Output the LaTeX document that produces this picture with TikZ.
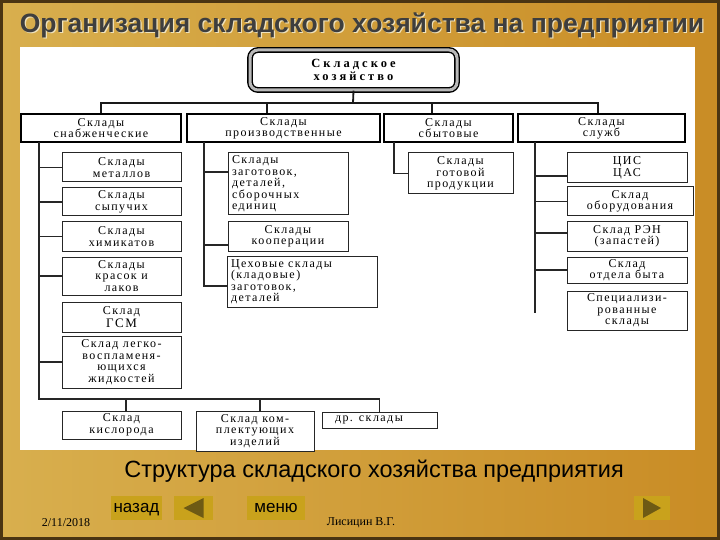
\documentclass[tikz,border=0pt]{standalone}
\usepackage{fontspec}
\setmainfont{Liberation Serif}
\setsansfont{Liberation Sans}
\newfontfamily\boxfont[LetterSpace=12]{Liberation Serif}
\newfontfamily\topfont[LetterSpace=24]{Liberation Serif}
\newfontfamily\titlefont{Liberation Sans}
\usepackage{xcolor}
\usepackage{tikz}

\definecolor{bgL}{HTML}{D8AF4E}
\definecolor{bgM}{HTML}{E4C57C}
\definecolor{bgR}{HTML}{C98C25}
\definecolor{slideframe}{HTML}{4A3412}
\definecolor{btnfill}{HTML}{C9A21C}
\definecolor{btntri}{HTML}{6E5A14}
\definecolor{ttl}{HTML}{3E3E3E}
\definecolor{ttlshadow}{HTML}{EFE2BC}

\begin{document}
\begin{tikzpicture}[
    x=1pt,y=-1pt,
    topbox/.style={draw=black, line width=1.4pt, double=gray!55, double distance=3pt,
                   rounded corners=8pt, fill=white, align=center, inner sep=0pt,
                   font=\topfont\bfseries\fontsize{12.5}{13}\selectfont},
    cat/.style={draw, line width=2.2pt, fill=white, align=center, inner sep=0pt,
                font=\boxfont\fontsize{12}{11}\selectfont},
    itm/.style={draw=black!85, line width=1pt, fill=white, align=center, inner sep=0pt,
                font=\boxfont\fontsize{12}{11.5}\selectfont},
    lft/.style={itm, align=left, text width=#1, inner xsep=4pt},
    line/.style={line width=1.2pt, black!85},
    bus/.style={line width=1.8pt, black!90},
    btn/.style={fill=btnfill, minimum height=24, inner sep=0pt, text height=12, text depth=4,
                font=\sffamily\fontsize{17}{17}\selectfont}
]
\useasboundingbox (0,0) rectangle (720,540);

% Slide background
\shade[left color=bgL, middle color=bgM, right color=bgR] (0,0) rectangle (720,540);
\draw[line width=3pt, slideframe] (1.5,1.5) rectangle (718.5,538.5);
\fill[white] (20,47) rectangle (695,450);

% Title
\node[font=\titlefont\bfseries\fontsize{26.5}{26.5}\selectfont, text=ttlshadow] (titleshadow) at (363.2,26.2) {Организация складского хозяйства на предприятии};
\node[font=\titlefont\bfseries\fontsize{26.5}{26.5}\selectfont, text=ttl] (title) at (362,25) {Организация складского хозяйства на предприятии};

% Top box and categories
\node[topbox, minimum width=207, minimum height=40] (top) at (353.5,70) {Складское\\хозяйство};
\node[cat, minimum width=160, minimum height=28] (snab) at (101,128) {Склады\\снабженческие};
\node[cat, minimum width=193, minimum height=28] (proizv) at (283.5,128) {Склады\\производственные};
\node[cat, minimum width=129, minimum height=28] (sbyt) at (448.5,128) {Склады\\сбытовые};
\node[cat, minimum width=167, minimum height=28] (sluzhb) at (601.5,128) {Склады\\служб};
\coordinate (busmid) at (353,103);
\draw[bus] (top.south) -- (busmid);
\draw[bus] (snab.north) |- (busmid) -| ([xshift=-3.5pt]sluzhb.north);
\draw[bus] ([xshift=-16.5pt]proizv.north) -- ++(0,-11);
\draw[bus] ([xshift=-16.5pt]sbyt.north) -- ++(0,-11);

% Supply warehouses
\node[itm, minimum width=119, minimum height=29] (metal) at (121.5,167.5) {Склады\\металлов};
\node[itm, minimum width=119, minimum height=28] (sypuch) at (121.5,202) {Склады\\сыпучих};
\node[itm, minimum width=119, minimum height=29] (himik) at (121.5,236.5) {Склады\\химикатов};
\node[itm, minimum width=119, minimum height=38] (krask) at (121.5,276) {Склады\\красок и\\лаков};
\node[itm, minimum width=119, minimum height=30] (gsm) at (121.5,317) {Склад\\[1.5pt]{\fontsize{13}{13}\selectfont ГСМ}};
\node[itm, minimum width=119, minimum height=52] (legko) at (121.5,362) {Склад легко-\\воспламеня-\\ющихся\\жидкостей};
\coordinate (v1) at (39,142);
\coordinate (b1) at (39,399);
\foreach \n in {metal,sypuch,himik,krask,legko}
  \draw[line] (\n.west) -- (\n.west -| v1);

% Bottom row
\node[itm, minimum width=119, minimum height=28] (kislor) at (121.5,425) {Склад\\кислорода};
\node[itm, minimum width=118, minimum height=40] (kompl) at (255,431) {Склад ком-\\плектующих\\изделий};
\node[lft=95, minimum width=115, minimum height=16] (drug) at (379.5,420) {\hspace*{3pt}др. склады};
\draw[line] (v1) -- (b1) -- (b1 -| drug.north) -- (drug.north);
\draw[line] ([xshift=4.5pt]kislor.north) -- ++(0,-12);
\draw[line] ([xshift=5pt]kompl.north) -- ++(0,-12);

% Production warehouses
\node[lft=112, minimum width=120, minimum height=62] (zagot) at (288,184) {Склады\\заготовок,\\деталей,\\сборочных\\единиц};
\node[itm, minimum width=120, minimum height=29] (koop) at (288,236.5) {Склады\\кооперации};
\node[lft=142, minimum width=150, minimum height=51] (tseh) at (302,281.5) {Цеховые склады\\(кладовые)\\заготовок,\\деталей};
\coordinate (v2) at (204,142);
\draw[line] (v2) |- ([yshift=-4.5pt]tseh.west);
\draw[line] ([yshift=12pt]zagot.west) -- ++(-24,0);
\draw[line] ([yshift=-8.5pt]koop.west) -- ++(-24,0);

% Sales warehouses
\node[itm, minimum width=105, minimum height=41] (gotov) at (460.5,173.5) {Склады\\готовой\\продукции};
\coordinate (v3) at (394,142);
\draw[line] (v3) |- (gotov.west);

% Service warehouses
\node[itm, minimum width=120, minimum height=30] (tsis) at (627,168) {ЦИС\\ЦАС};
\node[itm, minimum width=126, minimum height=29] (obor) at (630,201.5) {Склад\\оборудования};
\node[itm, minimum width=120, minimum height=29] (ren) at (627,236.5) {Склад РЭН\\(запастей)};
\node[itm, minimum width=120, minimum height=26] (byta) at (627,270) {Склад\\отдела быта};
\node[itm, minimum width=120, minimum height=39] (spec) at (627,310.5) {Специализи-\\рованные\\склады};
\coordinate (v4) at (535,142);
\coordinate (v4end) at (535,313);
\draw[line] (v4) -- (v4end);
\draw[line] ([yshift=-8pt]tsis.west) -- ++(-32,0);
\draw[line] (obor.west) -- ++(-32,0);
\draw[line] ([yshift=3.5pt]ren.west) -- ++(-32,0);
\draw[line] (byta.west) -- ++(-32,0);

% Caption and navigation
\node[font=\sffamily\fontsize{23.5}{23.5}\selectfont] (caption) at (374,471) {Структура складского хозяйства предприятия};
\node[btn, minimum width=51] (back) at (136.5,508) {назад};
\node[btn, minimum width=39] (prev) at (193.5,508) {};
\fill[btntri] ([xshift=-10pt]prev.center) -- ([xshift=10pt,yshift=10pt]prev.center) -- ([xshift=10pt,yshift=-10pt]prev.center) -- cycle;
\node[btn, minimum width=58] (menu) at (276,508) {меню};
\node[btn, minimum width=36] (next) at (652,508) {};
\fill[btntri] ([xshift=9pt]next.center) -- ([xshift=-9pt,yshift=10pt]next.center) -- ([xshift=-9pt,yshift=-10pt]next.center) -- cycle;
\node[font=\fontsize{12}{12}\selectfont] (date) at (66,523) {2/11/2018};
\node[font=\fontsize{12}{12}\selectfont] (author) at (361,523) {Лисицин В.Г.};
\end{tikzpicture}
\end{document}
